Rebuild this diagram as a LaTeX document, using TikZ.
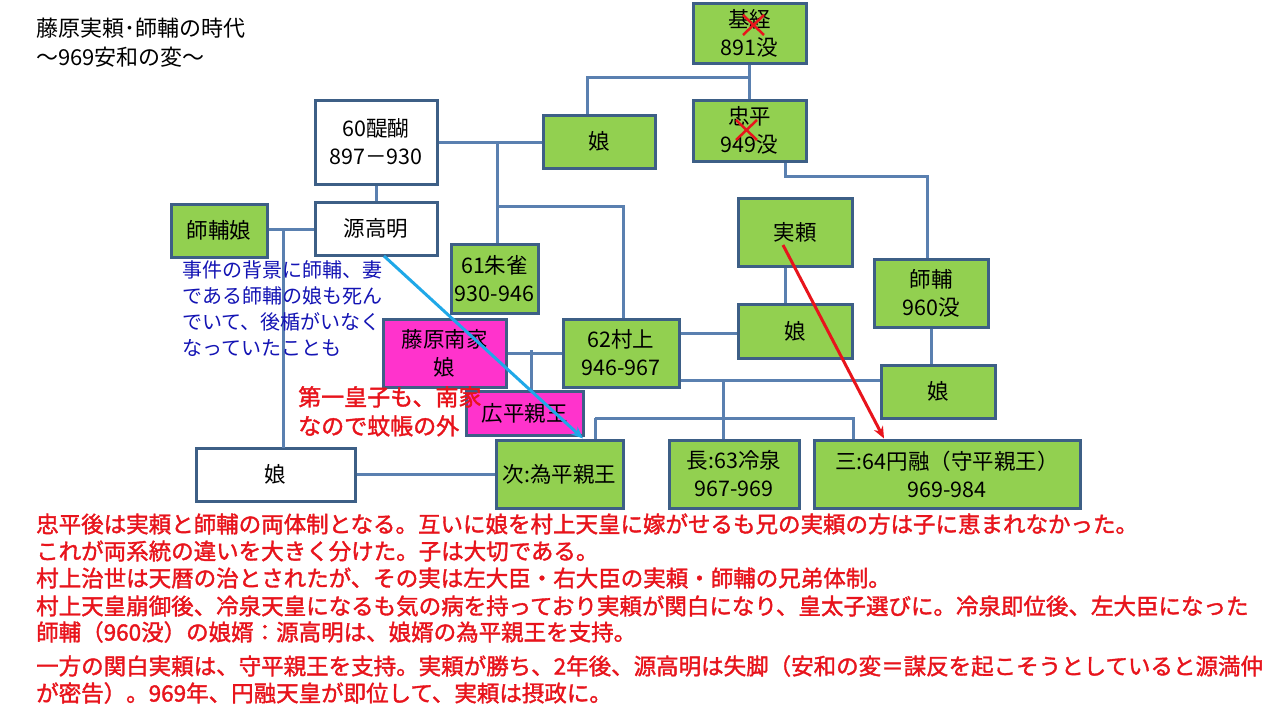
\documentclass[tikz,border=0pt]{standalone}
\usepackage{fontspec}
\setmainfont{Noto Sans CJK JP}
\newfontfamily\rb{Noto Sans CJK JP}[FakeBold=1.6]
\usetikzlibrary{arrows.meta}
\definecolor{gr}{HTML}{92D050}
\definecolor{bd}{HTML}{3D5F86}
\definecolor{ln}{HTML}{5A80B0}
\definecolor{mg}{HTML}{FF33CC}
\definecolor{cy}{HTML}{1FA8E8}
\definecolor{rd}{HTML}{E8141C}
\definecolor{nb}{HTML}{1414B4}
\begin{document}
\begin{tikzpicture}[x=1pt,y=-1pt,
  box/.style={draw=bd,line width=3pt,fill=gr,align=center,inner sep=0pt,font=\fontsize{21.5}{28}\selectfont},
  wbox/.style={box,fill=white},
  mbox/.style={box,fill=mg},
  con/.style={draw=ln,line width=3pt},
  txt/.style={anchor=north west,inner sep=0pt,align=left}]
\useasboundingbox[fill=white] (0,0) rectangle (1280,720);
\node[txt,font=\fontsize{22}{29}\selectfont] (title) at (36,18) {藤原実頼･師輔の時代\\～969安和の変～};
\coordinate (jK) at (749.5,77);
\coordinate (jT) at (587,77);
\coordinate (jA) at (497,142);
\coordinate (jB) at (497,206);
\coordinate (jC) at (623,206);
\coordinate (jS) at (283,229);
\coordinate (jS2) at (283,448);
\coordinate (jN) at (531,350);
\coordinate (jR) at (723,380);
\coordinate (jL) at (595,418);
\coordinate (jE) at (853,418);
\coordinate (jH) at (785,176);
\coordinate (jH2) at (927,176);
\node[box,minimum width=113pt,minimum height=60pt] (kiso) at (749.5,33) {基経\\891没};
\node[box,minimum width=113pt,minimum height=61pt] (tada) at (749.5,130.5) {忠平\\949没};
\node[box,minimum width=112pt,minimum height=53pt] (musT) at (599,141.5) {娘};
\node[wbox,minimum width=122pt,minimum height=84pt] (dai) at (376,142) {60醍醐\\897－930};
\node[wbox,minimum width=122pt,minimum height=53pt] (gen) at (376,228.5) {源高明};
\node[box,minimum width=96pt,minimum height=53pt] (shimus) at (219,230.5) {師輔娘};
\node[box,minimum width=87pt,minimum height=69pt] (suz) at (494.5,278.5) {61朱雀\\930-946};
\node[box,minimum width=114pt,minimum height=68pt] (sane) at (795,232) {実頼};
\node[box,minimum width=114pt,minimum height=68pt] (moro) at (931,293) {師輔\\960没};
\node[box,minimum width=114pt,minimum height=54pt] (musS) at (795,331) {娘};
\node[box,minimum width=116pt,minimum height=68pt] (mura) at (621,353) {62村上\\946-967};
\node[box,minimum width=114pt,minimum height=53pt] (musM) at (938,391.5) {娘};
\node[wbox,minimum width=159pt,minimum height=53pt] (musW) at (275.5,474.5) {娘};
\node[box,minimum width=127pt,minimum height=68pt] (tame) at (559.5,474) {次:為平親王};
\node[box,minimum width=130pt,minimum height=68pt] (rei) at (734,474) {長:63冷泉\\967-969};
\node[box,minimum width=266pt,minimum height=68pt] (en) at (947,474) {三:64円融（守平親王）\\969-984};
\path[con] (kiso.south) -- (tada.north);
\path[con] (jK) -- (jT) -- (musT.north -| jT);
\path[con] (dai.east) -- (dai.east -| musT.west);
\path[con] (jA) -- (jA |- suz.north);
\path[con] (jB) -- (jC) -- (jC |- mura.north);
\path[con] (dai.south) -- (gen.north);
\path[con] (shimus.east |- jS) -- (gen.west |- jS);
\path[con] (jS) -- (jS2);
\path[con] (musW.east) -- (musW.east -| tame.west);
\path[con] (mura.east |- 0,333) -- (musS.west |- 0,333);
\path[con] (mura.east |- 0,380) -- (musM.west |- 0,380);
\path[con] (jR) -- (jR |- rei.north);
\path[con] (jL) -- (jE) -- (jE |- en.north);
\path[con] (jL) -- (jL |- tame.north);
\path[con] (tada.south -| jH) -- (jH) -- (jH2) -- (jH2 |- moro.north);
\path[con] (sane.south -| jH) -- (musS.north -| jH);
\path[con] (moro.south) -- (moro.south |- musM.north);
\node[mbox,minimum width=123pt,minimum height=68pt] (nanke) at (444.5,353) {藤原南家\\娘};
\path[con] (nanke.east) -- (mura.west);
\path[con] (jN) -- (jN |- 0,391);
\node[mbox,minimum width=117pt,minimum height=44pt] (hiro) at (524.5,413) {広平親王};
\node[txt,text=nb,font=\fontsize{20}{26}\selectfont] (note) at (182,260) {事件の背景に師輔、妻\\である師輔の娘も死ん\\でいて、後楯がいなく\\なっていたことも};
\node[txt,text=rd,font=\rb\fontsize{23}{29}\selectfont] (red) at (298,386) {第一皇子も、南家\\なので蚊帳の外};
\draw[cy,line width=3pt,-{Stealth[length=12pt,width=10pt]}] (384,256) -- (tame.north -| 583,0);
\draw[rd,line width=3pt,-{Stealth[length=12pt,width=10pt]}] (783,245) -- (en.north -| 884,0);
\draw[rd,line width=2.5pt] (743,15) -- (764,35) (743,35) -- (764,15);
\draw[rd,line width=2.5pt] (736,120) -- (757,140) (736,140) -- (757,120);
\begin{scope}[every node/.style={anchor=west,inner sep=0pt,text=rd,font=\rb\fontsize{22.5}{22}\selectfont}]
\node (b1) at (36,524) {忠平後は実頼と師輔の両体制となる。互いに娘を村上天皇に嫁がせるも兄の実頼の方は子に恵まれなかった。};
\node (b2) at (36,551) {これが両系統の違いを大きく分けた。子は大切である。};
\node (b3) at (36,578) {村上治世は天暦の治とされたが、その実は左大臣・右大臣の実頼・師輔の兄弟体制。};
\node (b4) at (36,606) {村上天皇崩御後、冷泉天皇になるも気の病を持っており実頼が関白になり、皇太子選びに。冷泉即位後、左大臣になった};
\node (b5) at (36,632) {師輔（960没）の娘婿：源高明は、娘婿の為平親王を支持。};
\node (b6) at (36,666) {一方の関白実頼は、守平親王を支持。実頼が勝ち、2年後、源高明は失脚（安和の変＝謀反を起こそうとしていると源満仲};
\node (b7) at (36,693) {が密告）。969年、円融天皇が即位して、実頼は摂政に。};
\end{scope}
\end{tikzpicture}
\end{document}
